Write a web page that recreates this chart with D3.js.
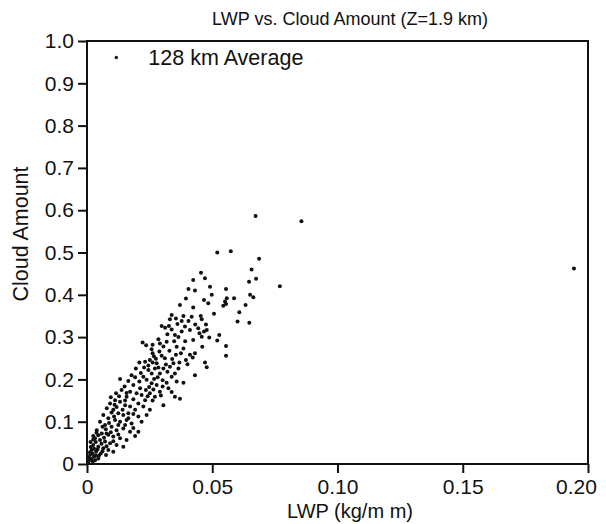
<!DOCTYPE html>
<html>
<head>
<meta charset="utf-8">
<script src="https://cdn.jsdelivr.net/npm/d3@7"></script>
<style>
  body { margin: 0; background: #fff; }
  svg text { font-family: "Liberation Sans", Arial, Helvetica, sans-serif; fill: #111; }
</style>
</head>
<body>
<div id="chart"></div>
<script>
// tick values and labels as printed on the figure
const xTicks = [0, 0.05, 0.10, 0.15, 0.20];
const xTickLabels = ['0', '0.05', '0.10', '0.15', '0.20'];
const yTicks = [0, 0.1, 0.2, 0.3, 0.4, 0.5, 0.6, 0.7, 0.8, 0.9, 1.0];
const yTickLabels = ['0', '0.1', '0.2', '0.3', '0.4', '0.5', '0.6', '0.7', '0.8', '0.9', '1.0'];

// [LWP, cloud amount], 128 km averages
const upperSamples = [
  [0.0673,0.586],[0.0856,0.574],[0.0520,0.500],[0.0574,0.503],[0.0687,0.485],[0.0657,0.460],
  [0.0675,0.438],[0.0647,0.431],[0.0770,0.420],[0.1944,0.462],
  [0.0455,0.452],[0.0471,0.439],[0.0424,0.435],[0.0405,0.414],[0.0431,0.410],[0.0491,0.419],
  [0.0555,0.414],[0.0651,0.400],[0.0664,0.394],[0.0395,0.391],[0.0467,0.388],[0.0498,0.400],
  [0.0484,0.380],[0.0371,0.376],[0.0424,0.370],[0.0558,0.392],[0.0551,0.384],[0.0544,0.374],
  [0.0555,0.378],[0.0587,0.392],[0.0633,0.376],[0.0608,0.359],[0.0507,0.355],[0.0338,0.352],
  [0.0385,0.350],[0.0331,0.342],[0.0418,0.348],[0.0454,0.350],[0.0458,0.342],[0.0601,0.337],
  [0.0648,0.334],[0.0298,0.326],[0.0327,0.326],[0.0361,0.331],[0.0391,0.325],[0.0444,0.321],
  [0.0475,0.330],[0.0478,0.317],[0.0488,0.299],[0.0528,0.305],[0.0520,0.292],[0.0321,0.307],
  [0.0351,0.305],[0.0378,0.313],[0.0411,0.317],[0.0424,0.293],[0.0460,0.277],[0.0555,0.279],
  [0.0555,0.256],[0.0449,0.309],[0.0458,0.301],[0.0467,0.313]
];
const middleSamples = [
  [0.0222,0.287],[0.0236,0.281],[0.0258,0.271],[0.0291,0.285],[0.0318,0.289],[0.0358,0.277],
  [0.0385,0.273],[0.0289,0.266],[0.0329,0.268],[0.0411,0.258],[0.0431,0.262],[0.0471,0.240],
  [0.0478,0.229],[0.0431,0.210],[0.0369,0.240],[0.0345,0.238],[0.0331,0.230],[0.0311,0.250],
  [0.0267,0.255],[0.0251,0.246],[0.0232,0.242],[0.0209,0.240],[0.0278,0.238],[0.0305,0.226],
  [0.0395,0.246],[0.0401,0.236],[0.0422,0.252],[0.0245,0.222],[0.0258,0.214],[0.0271,0.226],
  [0.0291,0.214],[0.0321,0.218],[0.0351,0.214],[0.0365,0.226],[0.0132,0.201],[0.0338,0.206],
  [0.0358,0.195],[0.0385,0.192],[0.0225,0.206],[0.0238,0.199],[0.0209,0.195],[0.0185,0.187],
  [0.0258,0.191],[0.0278,0.187],[0.0302,0.183],[0.0325,0.179],[0.0212,0.179],[0.0235,0.175],
  [0.0172,0.171],[0.0198,0.167],[0.0218,0.163],[0.0251,0.167],[0.0271,0.159],[0.0291,0.171],
  [0.0371,0.154],[0.0351,0.159],[0.0305,0.139],[0.0251,0.128],[0.0116,0.167],[0.0138,0.175],
  [0.0158,0.159],[0.0185,0.153],[0.0232,0.151],[0.0205,0.143],[0.0225,0.136],
  [0.0262,0.262],[0.0275,0.249],[0.0298,0.256],[0.0245,0.233],[0.0262,0.240],[0.0285,0.228],
  [0.0315,0.235],[0.0340,0.248],[0.0355,0.258],[0.0302,0.198],[0.0318,0.192],[0.0268,0.201],
  [0.0282,0.205],[0.0248,0.182],[0.0265,0.176],[0.0192,0.205],[0.0215,0.215],[0.0228,0.228],
  [0.0195,0.226],[0.0178,0.210],[0.0165,0.196],[0.0150,0.183],[0.0158,0.168],[0.0242,0.160],
  [0.0262,0.150],[0.0295,0.162],[0.0338,0.170],[0.0285,0.295],[0.0305,0.278],[0.0262,0.282],
  [0.0348,0.290],[0.0375,0.262],[0.0392,0.290],[0.0365,0.300],[0.0338,0.318],[0.0312,0.322],
  [0.0405,0.338],[0.0432,0.330],[0.0378,0.338],[0.0355,0.344]
];
const lowerSamples = [
  [0.0112,0.151],[0.0092,0.143],[0.0132,0.147],[0.0152,0.139],[0.0172,0.136],[0.0192,0.128],
  [0.0079,0.132],[0.0105,0.128],[0.0125,0.120],[0.0145,0.116],[0.0165,0.120],[0.0205,0.112],
  [0.0238,0.116],[0.0065,0.116],[0.0085,0.108],[0.0112,0.104],[0.0132,0.100],[0.0158,0.104],
  [0.0178,0.096],[0.0218,0.100],[0.0052,0.100],[0.0072,0.092],[0.0098,0.088],[0.0118,0.080],
  [0.0145,0.084],[0.0172,0.076],[0.0205,0.076],[0.0192,0.066],[0.0039,0.080],[0.0059,0.072],
  [0.0085,0.069],[0.0105,0.065],[0.0132,0.061],[0.0158,0.057],[0.0145,0.041],[0.0032,0.061],
  [0.0052,0.057],[0.0072,0.053],[0.0092,0.049],[0.0118,0.045],[0.0025,0.045],[0.0045,0.041],
  [0.0065,0.037],[0.0085,0.033],[0.0105,0.029],[0.0019,0.033],[0.0036,0.029],[0.0055,0.025],
  [0.0076,0.021],[0.0012,0.021],[0.0028,0.017],[0.0045,0.013],[0.0009,0.009],[0.0023,0.006],
  [0.0005,0.003],
  [0.0098,0.122],[0.0118,0.135],[0.0142,0.128],[0.0088,0.097],[0.0108,0.112],[0.0125,0.092],
  [0.0075,0.082],[0.0062,0.088],[0.0045,0.068],[0.0068,0.062],[0.0078,0.072],[0.0095,0.075],
  [0.0035,0.052],[0.0058,0.048],[0.0078,0.042],[0.0015,0.040],[0.0028,0.036],[0.0042,0.034],
  [0.0012,0.028],[0.0022,0.024],[0.0035,0.020],[0.0018,0.012],[0.0032,0.009],[0.0008,0.015],
  [0.0014,0.052],[0.0025,0.058],[0.0038,0.074],[0.0025,0.066],[0.0105,0.054],[0.0125,0.070],
  [0.0062,0.030],[0.0048,0.020],[0.0152,0.092],[0.0185,0.085],[0.0165,0.108],[0.0185,0.118],
  [0.0152,0.150],[0.0128,0.160],[0.0110,0.140],[0.0095,0.158]
];

const samples = upperSamples.concat(middleSamples, lowerSamples);

const W = 606, H = 524;
const margin = { top: 41, right: 18, bottom: 60, left: 87 };
const width = W - margin.left - margin.right;
const height = H - margin.top - margin.bottom;

const svg = d3.select('#chart').append('svg').attr('width', W).attr('height', H);
const g = svg.append('g').attr('transform', `translate(${margin.left},${margin.top})`);

const x = d3.scaleLinear().domain([0, 0.2]).range([0, width]);
const y = d3.scaleLinear().domain([0, 1]).range([height, 0]);

// axes: outward ticks, labels as on the scan
g.append('g').attr('transform', `translate(0,${height})`)
  .call(d3.axisBottom(x).tickValues(xTicks).tickSize(9).tickPadding(6).tickFormat((d, i) => xTickLabels[i]))
  .call(a => a.select('.domain').remove())
  .call(a => a.selectAll('.tick line').attr('stroke', '#111').attr('stroke-width', 2))
  .call(a => a.selectAll('.tick text').attr('font-size', '21px').attr('fill', '#111'))
  .call(a => a.selectAll('.tick:last-of-type text').attr('dx', -12));

g.append('g')
  .call(d3.axisLeft(y).tickValues(yTicks).tickSize(9).tickPadding(4).tickFormat((d, i) => yTickLabels[i]))
  .call(a => a.select('.domain').remove())
  .call(a => a.selectAll('.tick line').attr('stroke', '#111').attr('stroke-width', 2))
  .call(a => a.selectAll('.tick text').attr('font-size', '21px').attr('fill', '#111'));

// frame
g.append('rect').attr('x', 0).attr('y', 0).attr('width', width).attr('height', height)
  .attr('fill', 'none').attr('stroke', '#111').attr('stroke-width', 2);

// points
g.append('g').selectAll('circle').data(samples).join('circle')
  .attr('cx', d => x(d[0])).attr('cy', d => y(d[1]))
  .attr('r', 2).attr('fill', '#111');

// legend
g.append('circle').attr('cx', x(0.0117)).attr('cy', y(0.961)).attr('r', 1.7).attr('fill', '#111');
g.append('text').attr('x', x(0.0245)).attr('y', 24)
  .attr('font-size', '21.5px').text('128 km Average');

// titles
svg.append('text').attr('x', 350).attr('y', 25).attr('text-anchor', 'middle')
  .attr('font-size', '18px').text('LWP vs. Cloud Amount (Z=1.9 km)');
svg.append('text').attr('x', 350).attr('y', 518).attr('text-anchor', 'middle')
  .attr('font-size', '20px').text('LWP (kg/m m)');
svg.append('text').attr('transform', 'translate(28,234) rotate(-90)')
  .attr('text-anchor', 'middle').attr('font-size', '21.5px').text('Cloud Amount');
</script>
</body>
</html>
